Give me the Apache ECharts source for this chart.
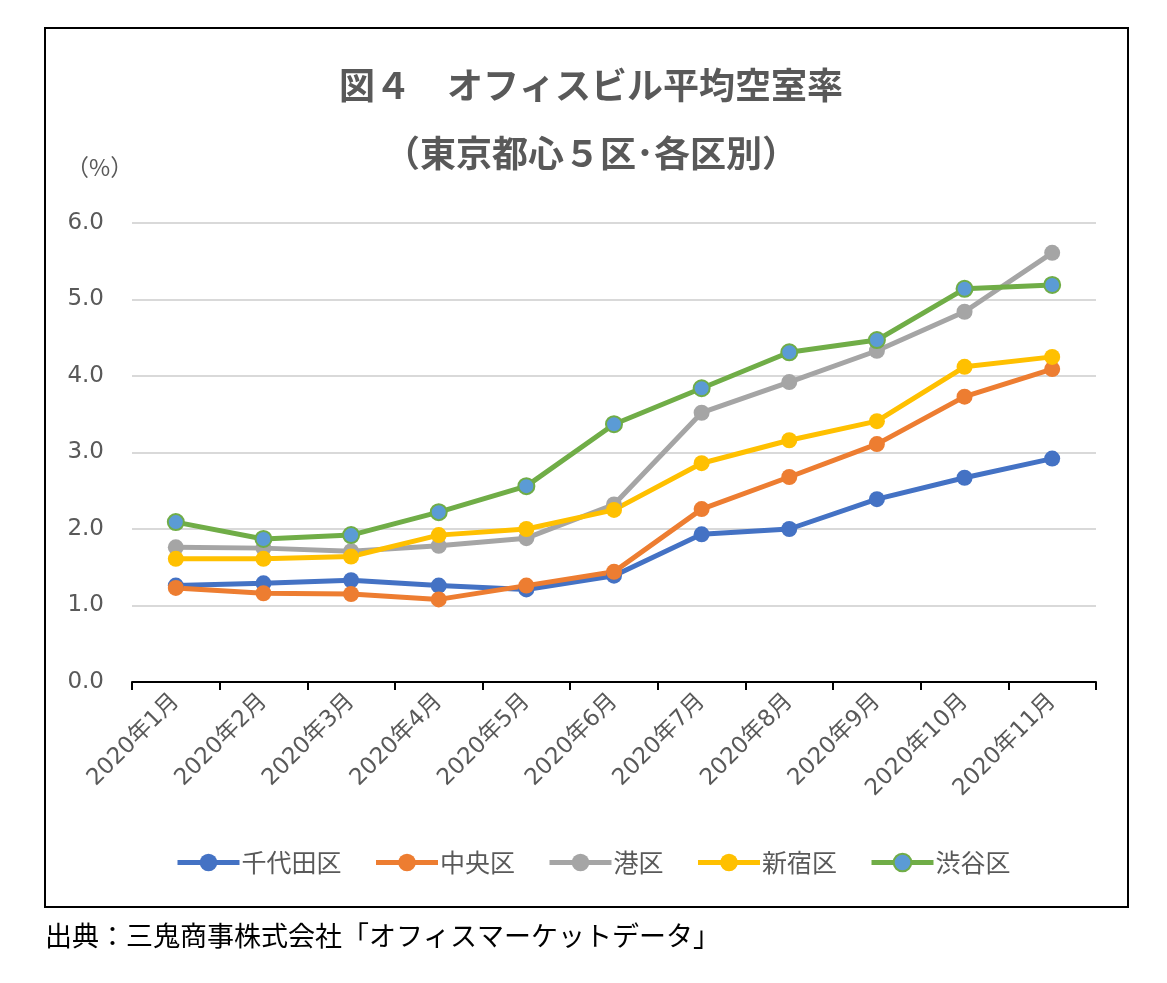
<!DOCTYPE html>
<html>
<head>
<meta charset="utf-8">
<script src="https://cdn.jsdelivr.net/npm/echarts@6/dist/echarts.min.js"></script>
<style>
html,body{margin:0;padding:0;background:#fff;}
#c{width:1167px;height:983px;}
</style>
</head>
<body>
<div id="c"></div>
<script>
const categories = ['2020年1月','2020年2月','2020年3月','2020年4月','2020年5月','2020年6月','2020年7月','2020年8月','2020年9月','2020年10月','2020年11月'];
const chiyoda = [1.26,1.29,1.33,1.26,1.21,1.39,1.93,2.00,2.39,2.67,2.92];
const chuo = [1.23,1.16,1.15,1.08,1.26,1.44,2.26,2.68,3.11,3.73,4.09];
const minato = [1.76,1.75,1.71,1.78,1.88,2.32,3.52,3.92,4.33,4.84,5.61];
const shinjuku = [1.61,1.61,1.64,1.92,2.00,2.25,2.86,3.16,3.41,4.12,4.25];
const shibuya = [2.09,1.87,1.92,2.22,2.56,3.37,3.84,4.31,4.47,5.14,5.19];
const seriesNames = ['千代田区','中央区','港区','新宿区','渋谷区'];
const yTicks = [0,1,2,3,4,5,6];

const chart = echarts.init(document.getElementById('c'), null, {renderer:'canvas'});
const gray = '#595959';
const jp = '"Noto Sans CJK JP", sans-serif';
const num = '"DejaVu Sans", "Noto Sans CJK JP", sans-serif';

function mk(name, data, color, fill){
  return {
    name, type:'line', data,
    symbol:'circle', symbolSize:16,
    lineStyle:{color, width:5},
    itemStyle:{color: fill || color, borderColor: color, borderWidth: fill ? 2 : 0},
    emphasis:{disabled:true},
    animation:false
  };
}

chart.setOption({
  backgroundColor:'#fff',
  animation:false,
  title:[
    {text:'図４　オフィスビル平均空室率', left:586, textAlign:'center', top:62,
     textStyle:{fontFamily:jp, fontSize:36, fontWeight:'bold', color:gray}},
    {text:'（東京都心５区･各区別）', left:586, textAlign:'center', top:130,
     textStyle:{fontFamily:jp, fontSize:36, fontWeight:'bold', color:gray}}
  ],
  graphic:[
    {type:'rect', shape:{x:45,y:28,width:1083,height:879}, style:{fill:'none', stroke:'#000', lineWidth:2}, z:-1},
    {type:'text', left:66, top:156, style:{text:'（%）', fontFamily:jp, fontSize:23, fill:gray}},
    {type:'text', left:45, top:922, style:{text:'出典：三鬼商事株式会社「オフィスマーケットデータ」', fontFamily:jp, fontSize:27, fill:'#000'}}
  ],
  legend:{
    data:seriesNames, left:170, top:845, itemWidth:62, itemHeight:22, itemGap:32,
    lineStyle:{width:5},
    textStyle:{fontFamily:jp, fontSize:25, color:gray, padding:[0,0,0,-3]}
  },
  grid:{left:132, right:71, top:223, bottom:301, containLabel:false},
  xAxis:{
    type:'category', data:categories, boundaryGap:true,
    axisLine:{lineStyle:{color:'#000', width:2}},
    axisTick:{show:true, length:8, lineStyle:{color:'#000', width:2}},
    axisLabel:{rotate:45, fontFamily:num, fontSize:23, color:gray, margin:16, interval:0}
  },
  yAxis:{
    type:'value', min:yTicks[0], max:yTicks[yTicks.length-1], interval:1,
    axisLine:{show:false}, axisTick:{show:false},
    axisLabel:{fontFamily:num, fontSize:23, color:gray, margin:28, formatter:v=>v.toFixed(1)},
    splitLine:{lineStyle:{color:'#d9d9d9', width:2}}
  },
  series:[
    mk(seriesNames[0], chiyoda, '#4472C4'),
    mk(seriesNames[1], chuo, '#ED7D31'),
    mk(seriesNames[2], minato, '#A5A5A5'),
    mk(seriesNames[3], shinjuku, '#FFC000'),
    mk(seriesNames[4], shibuya, '#70AD47', '#5B9BD5')
  ]
});
</script>
</body>
</html>
